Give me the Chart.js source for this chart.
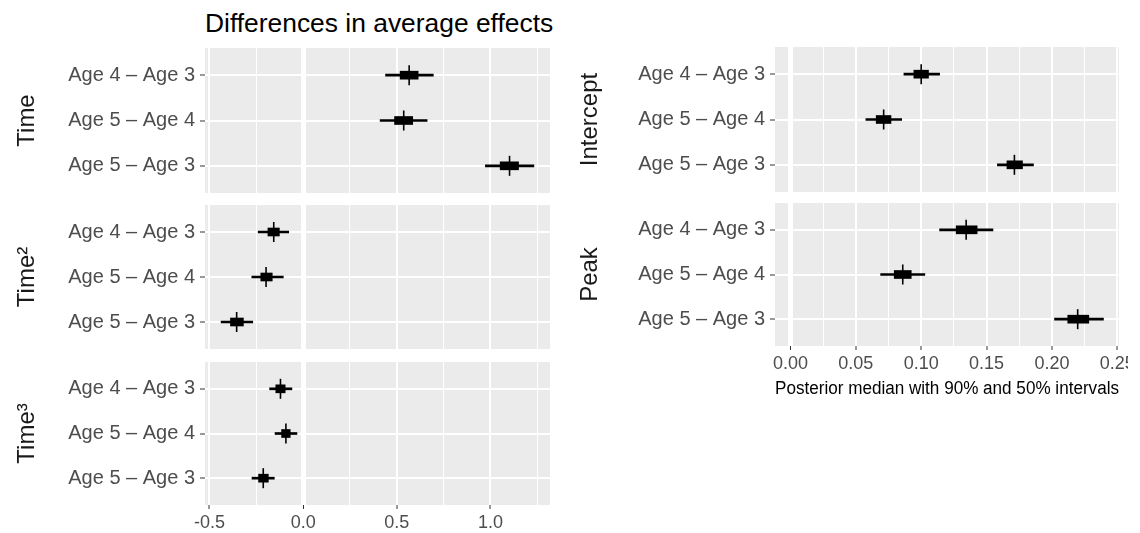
<!DOCTYPE html>
<html>
<head>
<meta charset="utf-8">
<script src="https://cdn.jsdelivr.net/npm/chart.js@4/dist/chart.umd.min.js"></script>
<style>
  body { margin: 0; background: #fff; width: 1140px; height: 533px; position: relative; overflow: hidden;
         font-family: "Liberation Sans", Arial, Helvetica, sans-serif; }
  canvas { position: absolute; }
  #title { position: absolute; left: 205px; top: 10px; font-size: 26.4px; line-height: 1; color: #000; white-space: nowrap; }
</style>
</head>
<body>
<div id="title">Differences in average effects</div>
<canvas id="cTime" width="550" height="145" style="left:0;top:48px"></canvas>
<canvas id="cTime2" width="550" height="144" style="left:0;top:205px"></canvas>
<canvas id="cTime3" width="550" height="171" style="left:0;top:362px"></canvas>
<canvas id="cIntercept" width="568" height="145" style="left:560px;top:47px"></canvas>
<canvas id="cPeak" width="568" height="199" style="left:560px;top:203px"></canvas>
<script>
// rows, top to bottom
const rowLabels = ['Age 4 – Age 3', 'Age 5 – Age 4', 'Age 5 – Age 3'];

// Time
const timeMedian = [0.566, 0.537, 1.102];
const time50 = [[0.518, 0.614], [0.488, 0.585], [1.052, 1.150]];
const time90 = [[0.440, 0.695], [0.411, 0.662], [0.973, 1.232]];
// Time^2
const time2Median = [-0.157, -0.198, -0.355];
const time2_50 = [[-0.188, -0.127], [-0.226, -0.165], [-0.388, -0.319]];
const time2_90 = [[-0.240, -0.077], [-0.274, -0.106], [-0.438, -0.269]];
// Time^3
const time3Median = [-0.121, -0.092, -0.213];
const time3_50 = [[-0.146, -0.096], [-0.115, -0.069], [-0.238, -0.186]];
const time3_90 = [[-0.179, -0.060], [-0.150, -0.033], [-0.273, -0.154]];
// Intercept
const interceptMedian = [0.100, 0.0713, 0.1713];
const intercept50 = [[0.0944, 0.1056], [0.0656, 0.0769], [0.1656, 0.1775]];
const intercept90 = [[0.0868, 0.1141], [0.0577, 0.0851], [0.1583, 0.1859]];
// Peak
const peakMedian = [0.1344, 0.0859, 0.2197];
const peak50 = [[0.1268, 0.1428], [0.0794, 0.0924], [0.2121, 0.2282]];
const peak90 = [[0.1141, 0.1549], [0.0690, 0.1028], [0.2020, 0.2394]];

// x grid / ticks
const leftGrid = [-0.5, -0.25, 0, 0.25, 0.5, 0.75, 1, 1.25];
const leftMajor = [-0.5, 0, 0.5, 1];
const leftTickLabels = ['-0.5', '0.0', '0.5', '1.0'];
const rightGrid = [0, 0.025, 0.05, 0.075, 0.1, 0.125, 0.15, 0.175, 0.2, 0.225, 0.25];
const rightMajor = [0, 0.05, 0.1, 0.15, 0.2, 0.25];
const rightTickLabels = ['0.00', '0.05', '0.10', '0.15', '0.20', '0.25'];

const FONT = '"Liberation Sans", Arial, Helvetica, sans-serif';

// grey ggplot panel
const panelBg = {
  id: 'panelBg',
  beforeDraw(chart) {
    const a = chart.chartArea, c = chart.ctx;
    c.save();
    c.fillStyle = '#EBEBEB';
    c.fillRect(a.left, a.top, a.right - a.left, a.bottom - a.top);
    c.restore();
  }
};

function facet(id, f) {
  const rows = rowLabels.map((_, i) => i + 1);
  const xH = f.xTitle ? 56 : (f.showX ? 28 : 0);
  new Chart(document.getElementById(id), {
    type: 'bar',
    data: {
      datasets: [
        { type: 'scatter', data: f.median.map((m, i) => ({ x: m, y: rows[i] })),
          pointStyle: 'line', pointRotation: 90, pointRadius: 10, pointBorderWidth: 1.6,
          pointBorderColor: '#000', pointBackgroundColor: '#000', order: 0 },
        { data: f.inner.map((r, i) => ({ x: r, y: rows[i] })), backgroundColor: '#000',
          barThickness: 8, grouped: false, order: 1 },
        { data: f.outer.map((r, i) => ({ x: r, y: rows[i] })), backgroundColor: '#000',
          barThickness: 2, grouped: false, order: 2 }
      ]
    },
    options: {
      indexAxis: 'y',
      responsive: false,
      animation: false,
      devicePixelRatio: 1,
      layout: { autoPadding: false, padding: { left: 0, top: 0, bottom: 0, right: f.padRight } },
      plugins: { legend: { display: false }, tooltip: { enabled: false } },
      scales: {
        x: {
          type: 'linear', min: f.min, max: f.max, offset: false,
          afterBuildTicks: ax => { ax.ticks = f.grid.map(v => ({ value: v })); },
          afterFit: s => { s.height = xH; s.paddingLeft = 0; s.paddingRight = 0; },
          border: { display: false },
          grid: {
            offset: false,
            color: '#fff',
            lineWidth: c => c.tick && c.tick.value === 0 ? 5 : (f.major.includes(c.tick.value) ? 2 : 1),
            drawTicks: !!f.showX, tickLength: 4, tickWidth: 1,
            tickColor: c => f.major.includes(c.tick.value) ? '#333' : 'rgba(0,0,0,0)'
          },
          ticks: {
            display: !!f.showX, autoSkip: false, maxRotation: 0, padding: 3, color: '#4d4d4d',
            font: { family: FONT, size: 18 },
            callback: v => { const k = f.major.indexOf(v); return k < 0 ? '' : f.tickLabels[k]; }
          },
          title: f.xTitle
            ? { display: true, text: f.xTitle, color: '#000', font: { family: FONT, size: 18 }, padding: { top: 0, bottom: 2 } }
            : { display: false }
        },
        y: {
          type: 'linear', min: 0.4, max: 3.6, reverse: true, offset: false,
          afterBuildTicks: ax => { ax.ticks = rows.map(v => ({ value: v })); },
          afterFit: s => { s.width = f.yWidth; s.paddingTop = 0; s.paddingBottom = 0; },
          border: { display: false },
          grid: { offset: false, color: '#fff', lineWidth: 2, drawTicks: true, tickLength: 5, tickColor: '#333', tickWidth: 1 },
          ticks: {
            autoSkip: false, padding: 5, color: '#4d4d4d', font: { family: FONT, size: 20 },
            callback: v => rowLabels[v - 1]
          },
          title: { display: true, text: f.name, color: '#1a1a1a', font: { family: FONT, size: f.titleSize },
                   padding: { top: f.titlePad, bottom: 0 } }
        }
      }
    },
    plugins: [panelBg]
  });
}

const left = { min: -0.524, max: 1.318, grid: leftGrid, major: leftMajor, tickLabels: leftTickLabels,
               yWidth: 205, padRight: 0, titleSize: 24, titlePad: 13 };
const right = { min: -0.0118, max: 0.2513, grid: rightGrid, major: rightMajor, tickLabels: rightTickLabels,
                yWidth: 215, padRight: 9, titleSize: 24, titlePad: 16 };

facet('cTime', { ...left, name: 'Time', median: timeMedian, inner: time50, outer: time90 });
facet('cTime2', { ...left, name: 'Time²', median: time2Median, inner: time2_50, outer: time2_90 });
facet('cTime3', { ...left, name: 'Time³', median: time3Median, inner: time3_50, outer: time3_90, showX: true });
facet('cIntercept', { ...right, name: 'Intercept', median: interceptMedian, inner: intercept50, outer: intercept90 });
facet('cPeak', { ...right, name: 'Peak', median: peakMedian, inner: peak50, outer: peak90, showX: true,
                 xTitle: 'Posterior median with 90% and 50% intervals' });
</script>
</body>
</html>
